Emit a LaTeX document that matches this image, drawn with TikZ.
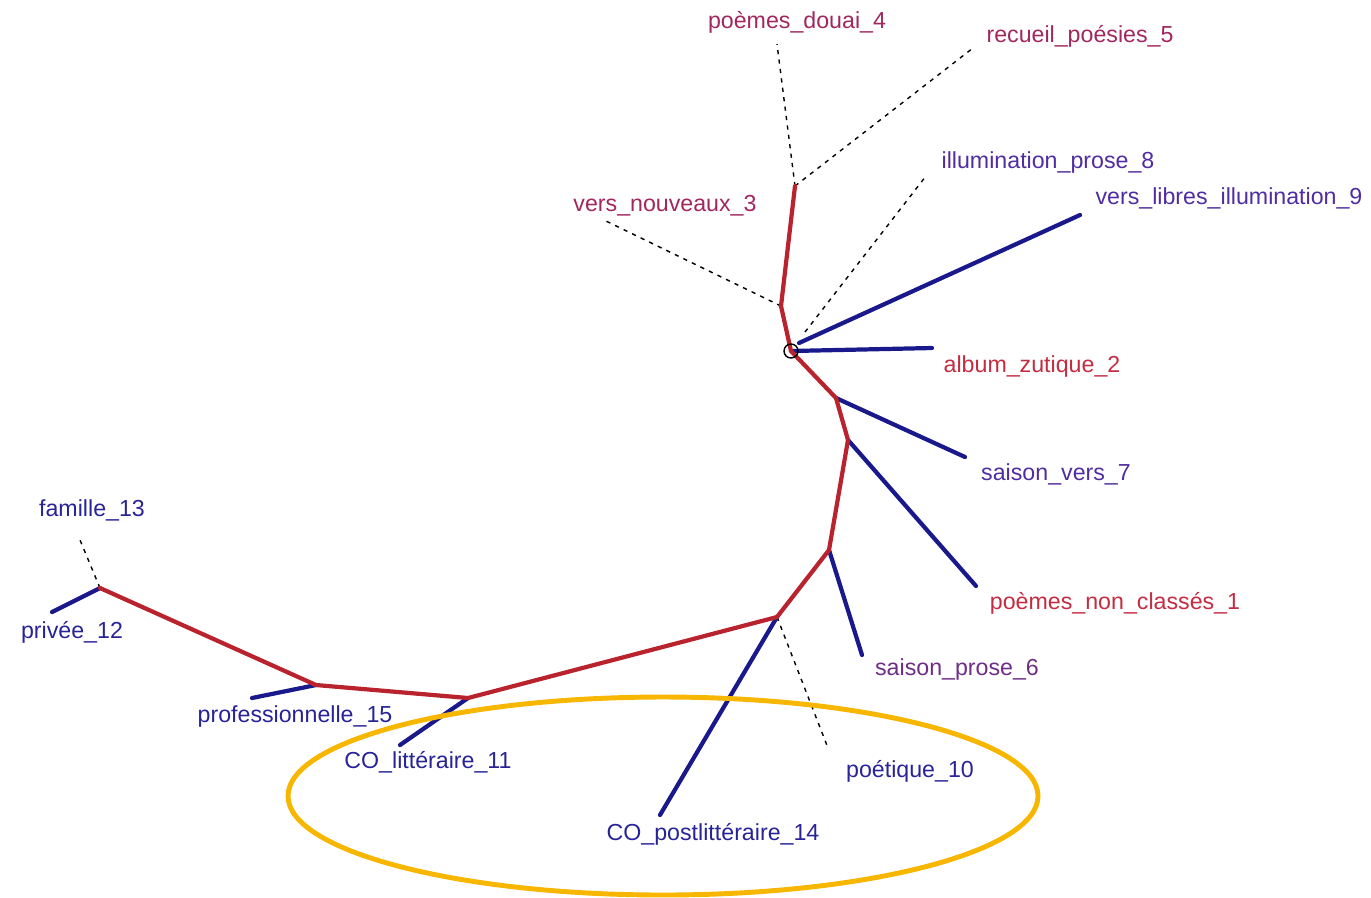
\documentclass[tikz,border=0pt]{standalone}
\usepackage{fontspec}
\setmainfont{Liberation Sans}
\usetikzlibrary{positioning,calc}
\definecolor{treered}{RGB}{185,35,45}
\definecolor{treeblue}{RGB}{25,25,140}
\definecolor{ringorange}{RGB}{247,182,0}
\definecolor{lblred}{RGB}{195,45,65}
\definecolor{lblrose}{RGB}{160,40,95}
\definecolor{lblpurple}{RGB}{110,45,135}
\definecolor{lblviolet}{RGB}{80,45,160}
\definecolor{lblblue}{RGB}{40,35,150}

\begin{document}
\begin{tikzpicture}[x=0.02cm, y=-0.02cm,
    redline/.style={treered, line width=2.4pt, line cap=round, line join=round},
    blueline/.style={treeblue, line width=2.4pt, line cap=round},
    dotline/.style={black, line width=0.8pt, dash pattern=on 2.4pt off 3pt},
    lbl/.style={inner sep=0pt, font=\fontsize{13.2}{15}\selectfont}]
    \useasboundingbox (0,0) rectangle (1371,897);

    % junctions of the tree
    \coordinate (root) at (791,351);
    \coordinate (j3) at (781,306);
    \coordinate (jtop) at (795,186);
    \coordinate (j7) at (836,398);
    \coordinate (j1) at (848,440);
    \coordinate (j6) at (829,550);
    \coordinate (j10) at (777,617);
    \coordinate (j11) at (468,698);
    \coordinate (j15) at (316,685);
    \coordinate (j13) at (100,588);

    % free ends of the branches
    \coordinate (e4) at (777,44);
    \coordinate (e5) at (973,48);
    \coordinate (e3) at (606,221);
    \coordinate (e8s) at (805,332);
    \coordinate (e8) at (926,176);
    \coordinate (e9s) at (799,343);
    \coordinate (e9) at (1080,215);
    \coordinate (e2) at (932,348);
    \coordinate (e7) at (965,457);
    \coordinate (e1) at (976,586);
    \coordinate (e6) at (862,655);
    \coordinate (e10) at (828,748);
    \coordinate (e14) at (660,815);
    \coordinate (e11) at (400,745);
    \coordinate (e15) at (252,698);
    \coordinate (e13) at (80,540);
    \coordinate (e12) at (52,612);

    % labels
    \node[lbl, text=lblrose] (douai) at (797,22) {poèmes\_douai\_4};
    \node[lbl, text=lblrose] (recueil) at (1080,36) {recueil\_poésies\_5};
    \node[lbl, text=lblviolet] (illum) at (1048,162) {illumination\_prose\_8};
    \node[lbl, text=lblviolet] (libres) at (1229,198) {vers\_libres\_illumination\_9};
    \node[lbl, text=lblrose] (nouveaux) at (665,206) {vers\_nouveaux\_3};
    \node[lbl, text=lblred] (zutique) at (1032,366) {album\_zutique\_2};
    \node[lbl, text=lblviolet] (svers) at (1056,474) {saison\_vers\_7};
    \node[lbl, text=lblred] (nonclasses) at (1115,603) {poèmes\_non\_classés\_1};
    \node[lbl, text=lblpurple] (sprose) at (957,669) {saison\_prose\_6};
    \node[lbl, text=lblblue] (poetique) at (910,771) {poétique\_10};
    \node[lbl, text=lblblue] (copost) at (713,834) {CO\_postlittéraire\_14};
    \node[lbl, text=lblblue] (colit) at (428,762) {CO\_littéraire\_11};
    \node[lbl, text=lblblue] (pro) at (295,716) {professionnelle\_15};
    \node[lbl, text=lblblue] (famille) at (92,510) {famille\_13};
    \node[lbl, text=lblblue] (privee) at (72,632) {privée\_12};

    % dotted branches
    \draw[dotline] (jtop) -- (e4);
    \draw[dotline] (jtop) -- (e5);
    \draw[dotline] (j3) -- (e3);
    \draw[dotline] (e8s) -- (e8);
    \draw[dotline] (j10) -- (e10);
    \draw[dotline] (j13) -- (e13);

    % blue leaves
    \draw[blueline] (e9s) -- (e9);
    \draw[blueline] (root) -- (e2);
    \draw[blueline] (j7) -- (e7);
    \draw[blueline] (j1) -- (e1);
    \draw[blueline] (j6) -- (e6);
    \draw[blueline] (j10) -- (e14);
    \draw[blueline] (j11) -- (e11);
    \draw[blueline] (j15) -- (e15);
    \draw[blueline] (j13) -- (e12);

    % red trunk
    \draw[redline] (jtop) -- (j3) -- (root) -- (j7) -- (j1) -- (j6) -- (j10)
        -- (j11) -- (j15) -- (j13);
    \draw[black, line width=0.8pt] (root) circle (7);

    % highlight
    \draw[ringorange, line width=2.8pt] (663,796) ellipse (375 and 99);
\end{tikzpicture}
\end{document}
